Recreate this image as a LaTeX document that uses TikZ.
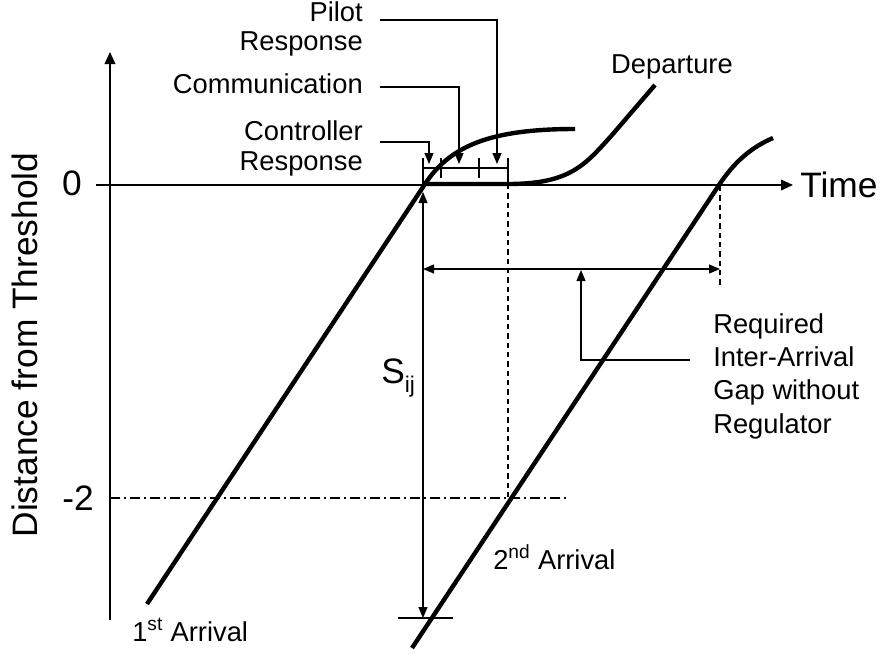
\documentclass[tikz,border=0pt]{standalone}
\usepackage{fontspec}
\setmainfont{Liberation Sans}
\usetikzlibrary{arrows.meta}
\begin{document}
\begin{tikzpicture}[x=0.75pt,y=-0.75pt,
  axis/.style={line width=1.1pt,-{Triangle[length=9pt,width=8pt]}},
  curve/.style={line width=3.3pt,line join=round},
  thinline/.style={line width=0.9pt},
  lead/.style={line width=0.9pt,-{Triangle[length=8.25pt,width=6.75pt]}},
  dbl/.style={line width=0.9pt,{Triangle[length=8.25pt,width=6.75pt]}-{Triangle[length=8.25pt,width=6.75pt]}},
  dsh/.style={line width=0.8pt,dash pattern=on 4pt off 3pt},
  dashdot/.style={line width=0.8pt,dash pattern=on 7.5pt off 3pt on 1.5pt off 3pt},
  small/.style={font=\fontsize{20.5}{25}\selectfont,inner sep=0pt},
  big/.style={font=\fontsize{26.5}{31}\selectfont,inner sep=0pt}]
\useasboundingbox (0,0) rectangle (881,653);

% texts (base anchor of multi-line nodes = last line baseline)
\node[small,font=\fontsize{20.5}{21}\selectfont,align=right,anchor=base east] (pilot) at (363,50) {Pilot\\Response};
\node[small,anchor=base east] (comm) at (363,93) {Communication};
\node[small,font=\fontsize{20.5}{22.5}\selectfont,align=right,anchor=base east] (ctrl) at (363,170) {Controller\\Response};
\node[small,anchor=base] (dep) at (672,73) {Departure};
\node[big,anchor=base west] (time) at (800,197) {Time};
\node[big,anchor=base] (zero) at (72,195) {0};
\node[big,anchor=base] (mtwo) at (78,510) {-2};
\node[big,rotate=90,anchor=base] (ylab) at (37,345) {Distance from Threshold};
\node[small,anchor=base west] (arr1) at (132,641) {1\textsuperscript{st} Arrival};
\node[small,anchor=base west] (arr2) at (493,569) {2\textsuperscript{nd} Arrival};
\node[big,anchor=base west] (sij) at (381,383) {S\raisebox{-7pt}{\fontsize{17}{18}\selectfont ij}};
\node[small,align=left,anchor=base west] (req) at (713,433) {Required\\Inter-Arrival\\Gap without\\Regulator};

% coordinates
\coordinate (yb) at (110,620); \coordinate (yt) at (110,52);
\coordinate (xl) at (96,185); \coordinate (xr) at (793,185);
\coordinate (p1s) at (147,604); \coordinate (p0) at (425,184); \coordinate (p1e) at (575,129);
\coordinate (dq) at (508,184); \coordinate (dm) at (612,135); \coordinate (de) at (655,85);
\coordinate (p2s) at (412,648); \coordinate (p2m) at (719,185); \coordinate (p2e) at (773,138);
\coordinate (b0t) at (423,158); \coordinate (b0b) at (423,184);
\coordinate (b1t) at (441,158); \coordinate (b1b) at (441,178);
\coordinate (b2t) at (479,158); \coordinate (b2b) at (479,178);
\coordinate (b3t) at (508,158); \coordinate (b3b) at (508,184);
\coordinate (bl) at (423,168); \coordinate (br) at (508,168);
\coordinate (pl0) at (380,20); \coordinate (pl1) at (497,20); \coordinate (pl2) at (497,164);
\coordinate (cm0) at (380,87); \coordinate (cm1) at (459,87); \coordinate (cm2) at (459,164);
\coordinate (ct0) at (380,142); \coordinate (ct1) at (429,142); \coordinate (ct2) at (429,164);
\coordinate (dv1) at (508,498);
\coordinate (dv2t) at (720,186); \coordinate (dv2b) at (720,285);
\coordinate (ddl) at (110,498); \coordinate (ddr) at (568,498);
\coordinate (st) at (423,192); \coordinate (sb) at (423,618);
\coordinate (tkl) at (398,618); \coordinate (tkr) at (453,618);
\coordinate (gl) at (423,269); \coordinate (gr) at (720,269);
\coordinate (rq0) at (690,360); \coordinate (rq1) at (581,360); \coordinate (rq2) at (581,270);

% axes
\draw[axis] (yb) -- (yt);
\draw[axis] (xl) -- (xr);

% reference lines
\draw[dashdot] (ddl) -- (ddr);
\draw[dsh] (b3b) -- (dv1);
\draw[dsh] (dv2t) -- (dv2b);

% trajectories
\draw[curve] (p1s) -- (p0) .. controls (450,146) and (490,129) .. (p1e);
\draw[curve] (p0) -- (dq) .. controls (570,184) and (585,165) .. (dm) -- (de);
\draw[curve] (p2s) -- (p2m) .. controls (735,161) and (752,147) .. (p2e);

% bracket
\draw[thinline] (bl) -- (br);
\draw[thinline] (b0t) -- (b0b);
\draw[thinline] (b1t) -- (b1b);
\draw[thinline] (b2t) -- (b2b);
\draw[thinline] (b3t) -- (b3b);

% leaders
\draw[lead] (pl0) -- (pl1) -- (pl2);
\draw[lead] (cm0) -- (cm1) -- (cm2);
\draw[lead] (ct0) -- (ct1) -- (ct2);

% separation and gap
\draw[dbl] (st) -- (sb);
\draw[thinline] (tkl) -- (tkr);
\draw[dbl] (gl) -- (gr);
\draw[lead] (rq0) -- (rq1) -- (rq2);
\end{tikzpicture}
\end{document}
